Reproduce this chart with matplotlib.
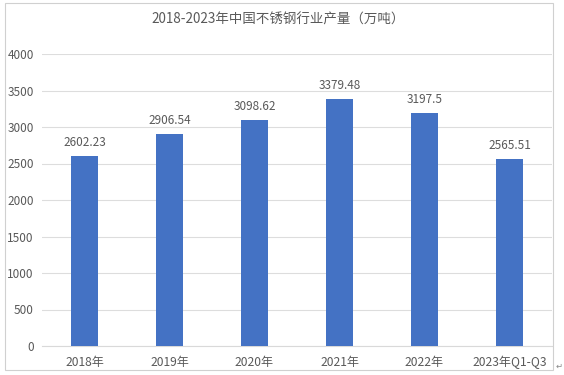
import matplotlib
matplotlib.use("Agg")
import matplotlib.pyplot as plt
from matplotlib.patches import Rectangle

plt.rcParams['font.family'] = ['Noto Sans CJK SC', 'DejaVu Sans']

categories = ["2018年", "2019年", "2020年", "2021年", "2022年", "2023年Q1-Q3"]
values = [2602.23, 2906.54, 3098.62, 3379.48, 3197.5, 2565.51]
labels = ["2602.23", "2906.54", "3098.62", "3379.48", "3197.5", "2565.51"]
yticks = [0, 500, 1000, 1500, 2000, 2500, 3000, 3500, 4000]
title = "2018-2023年中国不锈钢行业产量（万吨）"

W, H = 564, 375
fig = plt.figure(figsize=(W/100, H/100), dpi=100)
ax = fig.add_axes([42/W, (H-346)/H, (552-42)/W, (346-54)/H])

text_color = "#595959"
x = list(range(len(categories)))
ax.bar(x, values, width=0.31, color="#4472C4", zorder=3)
for xi, v, lab in zip(x, values, labels):
    ax.annotate(lab, (xi, v), xytext=(0, 5), textcoords="offset points",
                ha="center", va="bottom", fontsize=8.5, color=text_color)

ax.set_xlim(-0.5, len(categories) - 0.5)
ax.set_ylim(0, 4000)
ax.set_yticks(yticks)
ax.set_yticklabels([str(t) for t in yticks], fontsize=8.5, color=text_color)
ax.set_xticks(x)
ax.set_xticklabels(categories, fontsize=8.7, color=text_color)
ax.tick_params(axis="both", length=0)
ax.tick_params(axis="x", pad=7)
ax.tick_params(axis="y", pad=6)
ax.yaxis.grid(True, color="#DDDDDD", linewidth=0.8, zorder=0)
for s in ["top", "right", "left"]:
    ax.spines[s].set_visible(False)
ax.spines["bottom"].set_color("#D9D9D9")
ax.spines["bottom"].set_linewidth(0.8)

fig.text(278/W, 1 - 20/H, title, ha="center", va="center", fontsize=9.7, color=text_color)

fig.patches.append(Rectangle((5/W, 1 - 370/H), (553-5)/W, (370-3)/H,
                             transform=fig.transFigure, fill=False,
                             edgecolor="#D0D0D0", linewidth=0.8))
fig.text(556/W, 1 - 366/H, "↵", ha="left", va="center", fontsize=6, color="#888888",
         family=['DejaVu Sans'])

fig.savefig("out.png", dpi=100, facecolor="white")
